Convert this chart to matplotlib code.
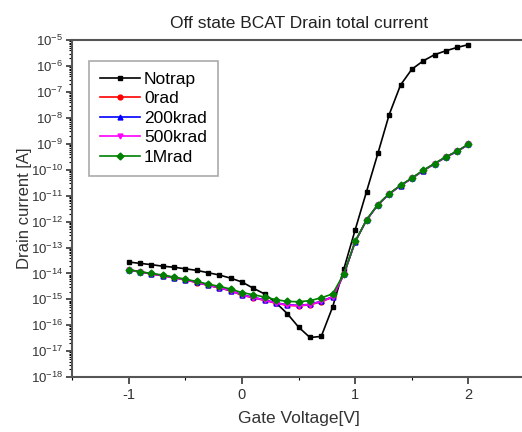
import numpy as np
import matplotlib
matplotlib.use("Agg")
import matplotlib.pyplot as plt
from matplotlib.ticker import LogLocator, FixedLocator, NullFormatter

plt.rcParams['font.family'] = ['Liberation Sans', 'DejaVu Sans']
plt.rcParams['mathtext.fontset'] = 'custom'
plt.rcParams['mathtext.rm'] = 'Liberation Sans'
plt.rcParams['mathtext.it'] = 'Liberation Sans:italic'
plt.rcParams['axes.unicode_minus'] = False

# gate voltage sweep [V]
gate_v = [-1.0, -0.9, -0.8, -0.7, -0.6, -0.5, -0.4, -0.3, -0.2, -0.1,
          0.0, 0.1, 0.2, 0.3, 0.4, 0.5, 0.6, 0.7, 0.8, 0.9,
          1.0, 1.1, 1.2, 1.3, 1.4, 1.5, 1.6, 1.7, 1.8, 1.9, 2.0]

# log10 of drain current [A]
notrap_log = [-13.56, -13.61, -13.66, -13.72, -13.76, -13.82, -13.88, -13.97, -14.06, -14.18,
              -14.33, -14.57, -14.79, -15.13, -15.55, -16.07, -16.47, -16.43, -15.30, -13.82,
              -12.31, -10.84, -9.37, -7.87, -6.73, -6.12, -5.80, -5.56, -5.41, -5.28, -5.17]
rad0_log = [-13.86, -13.94, -14.02, -14.09, -14.17, -14.25, -14.35, -14.46, -14.56, -14.67,
            -14.84, -14.94, -15.04, -15.15, -15.23, -15.25, -15.21, -15.09, -14.92, -14.04,
            -12.77, -11.94, -11.35, -10.93, -10.61, -10.33, -10.03, -9.77, -9.51, -9.29, -9.02]
rad200k_log = [-13.86, -13.94, -14.01, -14.08, -14.16, -14.24, -14.34, -14.45, -14.55, -14.66,
               -14.82, -14.92, -15.02, -15.13, -15.21, -15.23, -15.19, -15.07, -14.90, -14.03,
               -12.77, -11.94, -11.35, -10.93, -10.61, -10.33, -10.03, -9.77, -9.51, -9.29, -9.02]
rad500k_log = [-13.86, -13.94, -14.02, -14.08, -14.16, -14.25, -14.34, -14.45, -14.55, -14.66,
               -14.83, -14.93, -15.03, -15.14, -15.22, -15.24, -15.20, -15.08, -14.91, -14.03,
               -12.77, -11.94, -11.35, -10.93, -10.61, -10.33, -10.03, -9.77, -9.51, -9.29, -9.02]
rad1m_log = [-13.85, -13.93, -14.00, -14.06, -14.14, -14.22, -14.31, -14.41, -14.50, -14.60,
             -14.74, -14.82, -14.91, -15.01, -15.08, -15.09, -15.05, -14.94, -14.79, -14.01,
             -12.76, -11.93, -11.34, -10.92, -10.60, -10.32, -10.02, -9.76, -9.50, -9.28, -9.01]

labels = ['Notrap', '0rad', '200krad', '500krad', '1Mrad']
series = [notrap_log, rad0_log, rad200k_log, rad500k_log, rad1m_log]
colors = ['black', 'red', 'blue', 'magenta', '#008000']
markers = ['s', 'o', '^', 'v', 'D']

fig = plt.figure(figsize=(5.22, 4.32), dpi=100)
ax = fig.add_axes([0.138, 0.127, 0.868, 0.780])

for lab, s, c, m in zip(labels, series, colors, markers):
    ax.plot(gate_v, 10.0 ** np.array(s), color=c, marker=m, markersize=3.5,
            linewidth=1.2, label=lab)

ax.set_yscale('log')
ax.set_ylim(1e-18, 1e-5)
ax.set_xlim(-1.5, 2.5)
ax.yaxis.set_major_locator(FixedLocator([10.0 ** k for k in range(-18, -4)]))
ax.yaxis.set_minor_locator(LogLocator(base=10, subs=np.arange(2, 10), numticks=100))
ax.yaxis.set_minor_formatter(NullFormatter())
ax.set_xticks([-1, 0, 1, 2])
ax.set_xticks([-1.5, -0.5, 0.5, 1.5], minor=True)

ax.tick_params(which='major', direction='out', length=4, width=1.2, labelsize=9.5,
               colors='#333333', pad=2.5)
ax.tick_params(which='minor', direction='out', length=2.5, width=0.8)
ax.tick_params(axis='x', which='major', length=5, labelsize=10.5, pad=3)
for sp in ax.spines.values():
    sp.set_linewidth(1.5)
    sp.set_color('#555555')

ax.set_xlabel('Gate Voltage[V]', fontsize=12.5, color='#333333', labelpad=6)
ax.set_ylabel('Drain current [A]', fontsize=12, color='#333333', labelpad=-1)
ax.set_title('Off state BCAT Drain total current', fontsize=12.5, color='#222222', pad=9)

leg = ax.legend(loc='upper left', bbox_to_anchor=(0.0375, 0.938), borderaxespad=0,
                fontsize=12.5, handlelength=2.3, handletextpad=0.25, fancybox=False,
                framealpha=1, edgecolor='#aaaaaa', labelspacing=0.25, borderpad=0.62)
leg.get_frame().set_linewidth(1.2)

fig.savefig('out.png', dpi=100)
